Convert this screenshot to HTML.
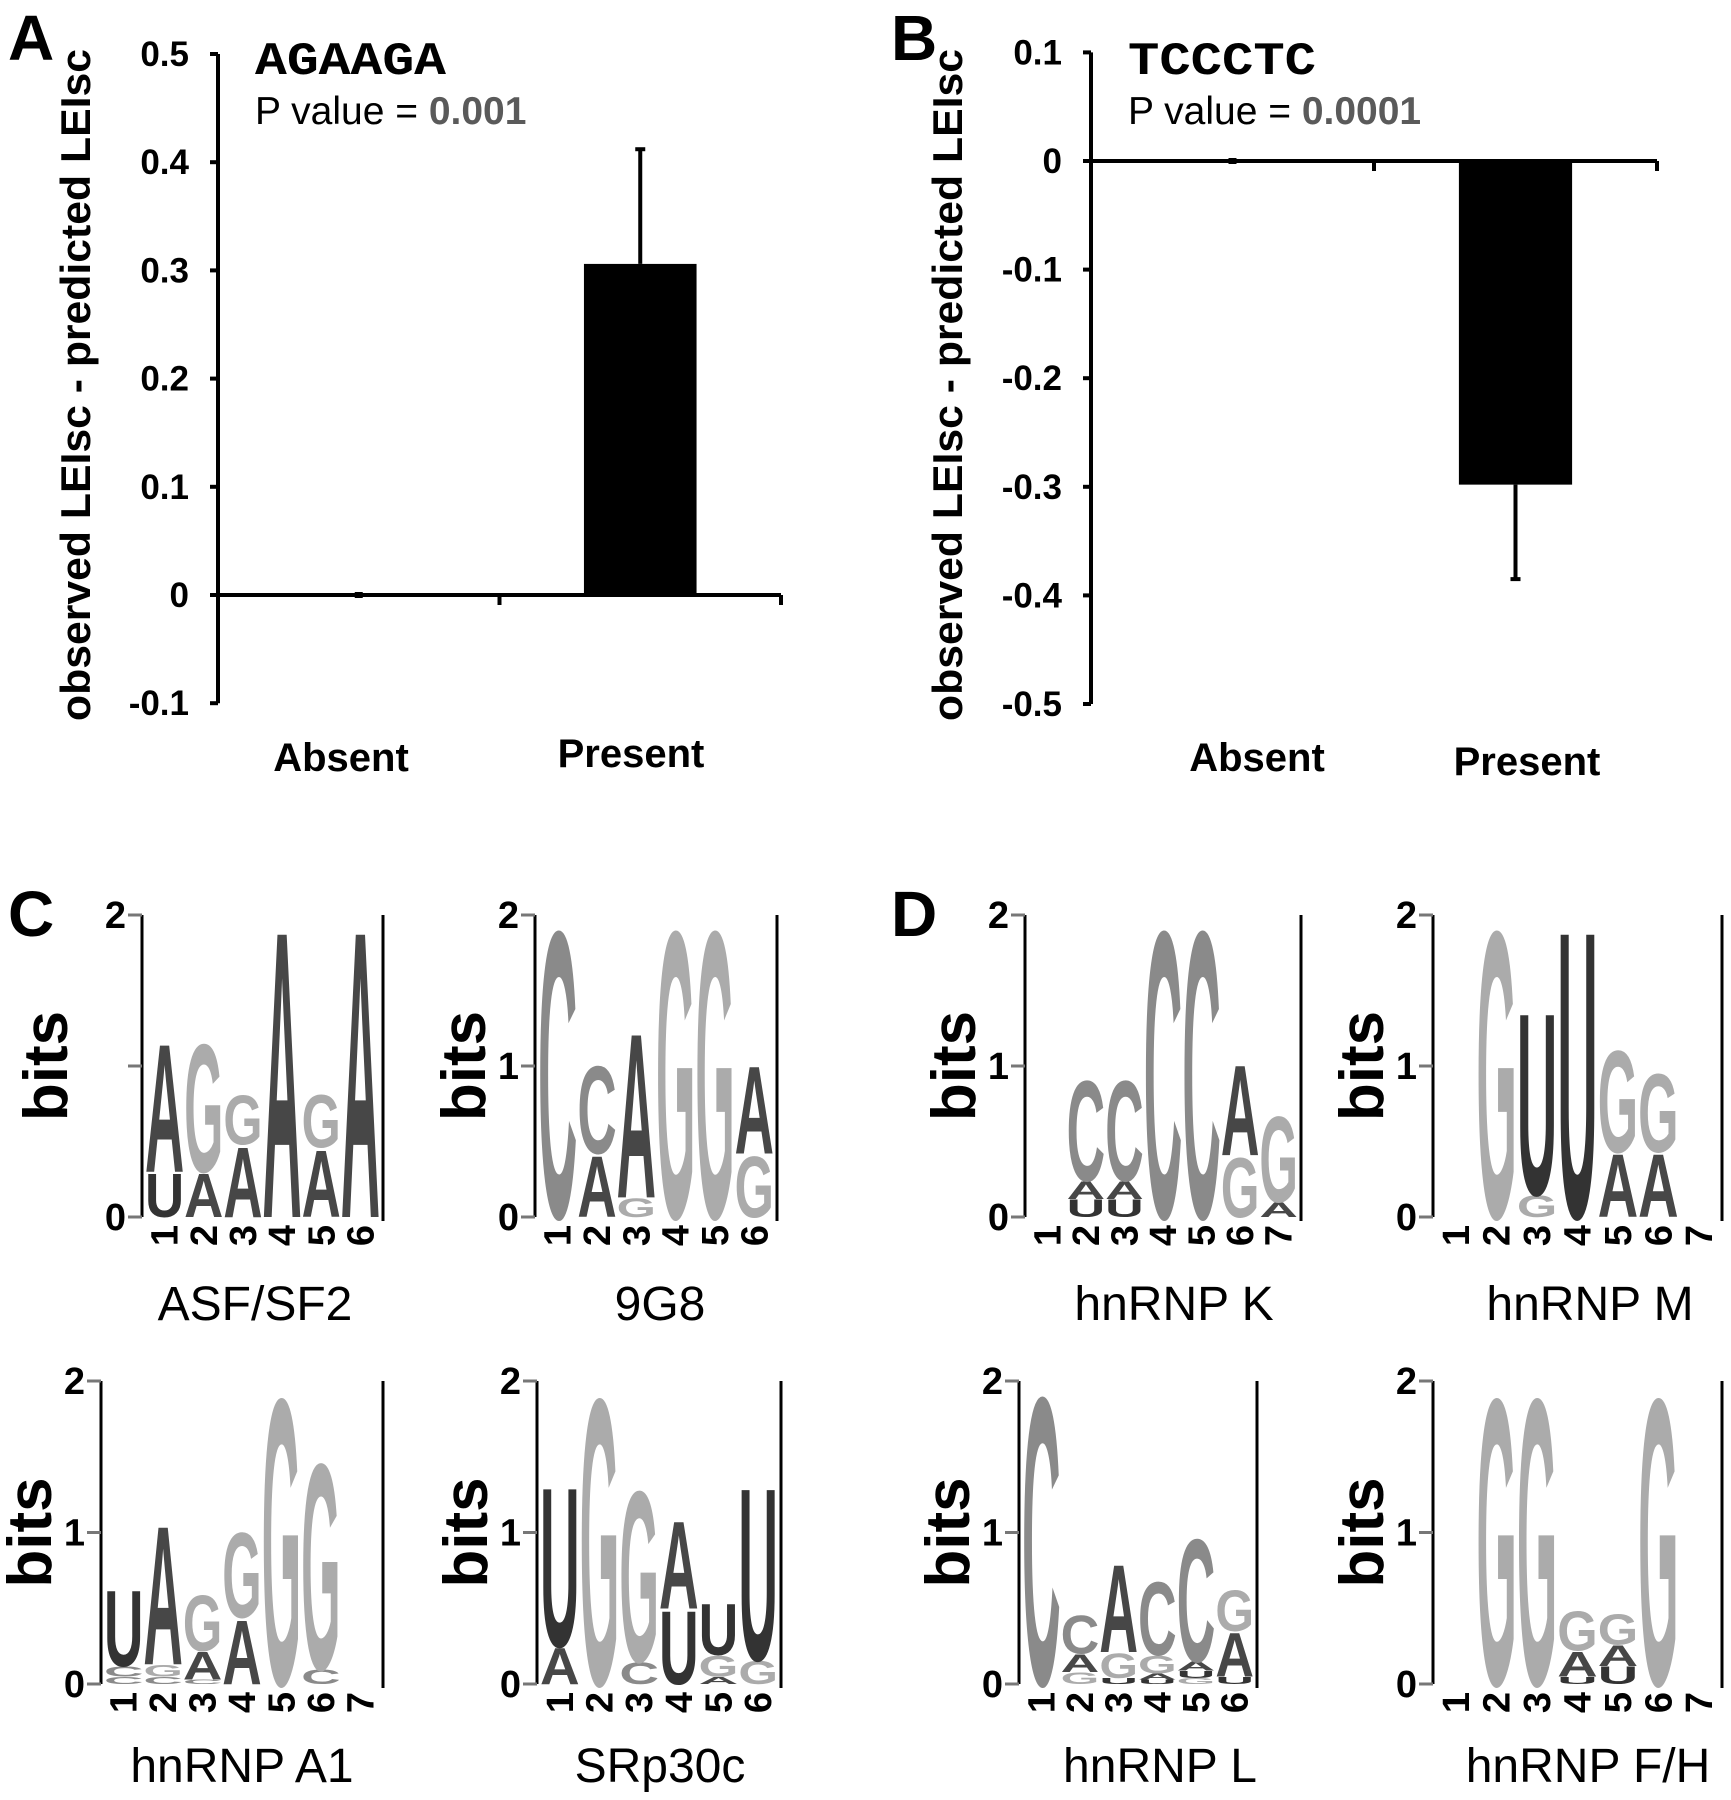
<!DOCTYPE html>
<html><head><meta charset="utf-8"><style>
html,body{margin:0;padding:0;background:#fff}
svg{display:block}
.mono{font-family:"Liberation Mono","Courier New",monospace}
</style></head><body>
<svg id="fig" xmlns="http://www.w3.org/2000/svg" width="1731" height="1800" viewBox="0 0 1731 1800" font-family="Liberation Sans, Arial, sans-serif">
<rect width="1731" height="1800" fill="#fff"/>
<g id="root"></g>
</svg>
<script>
// ---- Bar chart data ----
const catsA = ['Absent', 'Present'];
const valsA = [0, 0.306];
const errA = [0, 0.106];
const ticksA = [0.5, 0.4, 0.3, 0.2, 0.1, 0, -0.1];
const catsB = ['Absent', 'Present'];
const valsB = [0, -0.298];
const errB = [0, 0.087];
const ticksB = [0.1, 0, -0.1, -0.2, -0.3, -0.4, -0.5];

// ---- Sequence logo data: columns bottom->top [letter, bits] ----
const logoASF = [[['U',0.3],['A',0.88]],[['A',0.3],['G',0.88]],[['A',0.48],['G',0.34]],[['A',1.97]],[['A',0.46],['G',0.36]],[['A',1.97]]];
const logo9G8 = [[['C',1.97]],[['A',0.42],['C',0.6]],[['G',0.13],['A',1.13]],[['G',1.97]],[['G',1.97]],[['G',0.42],['A',0.6]]];
const logoA1 = [[['C',0.05],['C',0.07],['U',0.52]],[['C',0.05],['G',0.08],['A',0.95]],[['C',0.03],['A',0.19],['G',0.38]],[['A',0.44],['G',0.58]],[['G',1.96]],[['C',0.1],['G',1.41]],[]];
const logoSR = [[['A',0.25],['U',1.09]],[['G',1.96]],[['C',0.15],['G',1.17]],[['U',0.5],['A',0.6]],[['A',0.05],['G',0.14],['U',0.35]],[['G',0.16],['U',1.18]]];
const logoK = [[],[['U',0.12],['A',0.12],['C',0.69]],[['U',0.12],['A',0.12],['C',0.69]],[['C',1.97]],[['C',1.97]],[['G',0.41],['A',0.62]],[['A',0.1],['G',0.59]]];
const logoM = [[],[['G',1.97]],[['G',0.15],['U',1.25]],[['U',1.97]],[['A',0.43],['G',0.7]],[['A',0.43],['G',0.54]],[]];
const logoL = [[['C',1.97]],[['G',0.08],['A',0.12],['C',0.26]],[['U',0.04],['G',0.17],['A',0.6]],[['U',0.03],['A',0.04],['G',0.12],['C',0.5]],[['G',0.04],['U',0.05],['A',0.06],['C',0.84]],[['U',0.05],['A',0.3],['G',0.28]]];
const logoFH = [[],[['G',1.96]],[['G',1.96]],[['U',0.05],['A',0.17],['G',0.27]],[['U',0.12],['A',0.14],['G',0.21]],[['G',1.96]],[]];

const NS = 'http://www.w3.org/2000/svg';
const root = document.getElementById('root');
function mk(tag, attrs, parent) {
  const e = document.createElementNS(NS, tag);
  for (const k in attrs) e.setAttribute(k, attrs[k]);
  (parent || root).appendChild(e);
  return e;
}

function barChart(o) {
  const g = mk('g', {});
  
  
  const y = v => o.y0 - v * o.pxPerUnit;
  const half = (o.xEnd - o.ax) / o.cats.length;
  const ya = mk('line', {x1:o.ax, y1:y(o.ticks[0]), x2:o.ax, y2:y(o.ticks[o.ticks.length-1]), stroke:'#000','stroke-width':4}, g);
  
  
  o.ticks.forEach(t => {
    mk('line', {x1:o.ax-8, y1:y(t), x2:o.ax, y2:y(t), stroke:'#000','stroke-width':4}, g);
    const tl = mk('text', {x:o.ax-29, y:y(t)+12, 'text-anchor':'end', 'font-size':35, 'font-weight':'bold'}, g);
    tl.textContent = (Math.round(t*10)/10).toString();
    
    
  });
  o.vals.forEach((v, i) => {
    const cx = o.ax + half * (i + 0.5);
    const bw = half * 0.4;
    const top = Math.min(y(v), y(0)), h = Math.abs(y(v) - y(0));
    const r = mk('rect', {x:cx-bw/2, y:top, width:bw, height:Math.max(h, 0), fill:'#000'}, g);
    
    
    const e = o.errs[i];
    const ye = v >= 0 ? y(v + e) : y(v - e);
    if (e > 0) {
      const el = mk('line', {x1:cx, y1:y(v), x2:cx, y2:ye, stroke:'#000','stroke-width':4}, g);
      
      
      mk('line', {x1:cx-5, y1:ye, x2:cx+5, y2:ye, stroke:'#000','stroke-width':4}, g);
    } else {
      mk('rect', {x:cx-4, y:y(0)-3, width:8, height:6, fill:'#000'}, g);
    }
    const lab = mk('text', {x:o.labX[i], y:o.labY[i], 'text-anchor':'middle', 'font-size':40, 'font-weight':'bold'}, g);
    lab.textContent = o.cats[i];
    
    
  });
  const xa = mk('line', {x1:o.ax, y1:y(0), x2:o.xEnd, y2:y(0), stroke:'#000','stroke-width':4}, g);
  
  
  for (let i = 1; i <= o.cats.length; i++) {
    const tx = o.ax + half * i;
    mk('line', {x1:tx, y1:y(0), x2:tx, y2:y(0)+10, stroke:'#000','stroke-width':4}, g);
  }
  const yt = mk('text', {x:0, y:0, transform:`translate(${o.titleX},385) rotate(-90)`, 'text-anchor':'middle', 'font-size':42, 'font-weight':'bold', textLength:672, lengthAdjust:'spacingAndGlyphs'}, g);
  yt.textContent = 'observed LEIsc - predicted LEIsc';
  
  
  const mt = mk('text', {x:o.ax+37, y:74, 'font-size':46, 'font-weight':'bold', 'class':'mono', style:"font-family:'Liberation Mono','Courier New',monospace", textLength:o.motifLen, lengthAdjust:'spacingAndGlyphs'}, g);
  mt.textContent = o.motif;
  
  
  const pv = mk('text', {x:o.ax+37, y:124, 'font-size':39}, g);
  
  
  pv.appendChild(document.createTextNode('P value = '));
  const ps = mk('tspan', {fill:'#5a5a5a', 'font-weight':'bold'}, pv);
  ps.textContent = o.p;
  const pl = mk('text', {x:o.letterX, y:60, 'font-size':64, 'font-weight':'bold'}, g);
  pl.textContent = o.letter;
  
  
}

barChart({name:'chart-a', cats:catsA, vals:valsA, errs:errA, ticks:ticksA, ax:218, xEnd:781, y0:595, pxPerUnit:1082, labX:[341,631], labY:[771,767], titleX:90, motif:'AGAAGA', motifLen:191, p:'0.001', letter:'A', letterX:8});
barChart({name:'chart-b', cats:catsB, vals:valsB, errs:errB, ticks:ticksB, ax:1091, xEnd:1657, y0:161, pxPerUnit:1086, labX:[1257,1527], labY:[771,775], titleX:962, motif:'TCCCTC', motifLen:188, p:'0.0001', letter:'B', letterX:891});

const colors = {A:'#474747', C:'#8a8a8a', G:'#ababab', U:'#333333'};
const adv = {A:0.722, C:0.722, G:0.778, U:0.722};
function logo(o) {
  const g = mk('g', {});
  
  
  const pb = (o.y0 - o.y2) / 2;
  const yb = b => o.y0 - b * pb;
  const cw = (o.rx - o.ax - 6) / o.n;
  o.cols.forEach((col, i) => {
    const x0 = o.ax + 3 + i * cw;
    let acc = 0;
    col.forEach(([L, b]) => {
      const h = b * pb;
      const bottom = yb(acc);
      const sx = cw / (adv[L] * 100), sy = h / 72.5;
      const t = mk('text', {x:0, y:0, 'font-size':100, 'font-weight':'bold', fill:colors[L], 'text-anchor':'middle', transform:`translate(${x0+cw/2},${bottom}) scale(${sx},${sy})`}, g);
      t.textContent = L;
      
      
      acc += b;
    });
    const n = mk('text', {x:0, y:0, 'font-size':38, 'font-weight':'bold', transform:`translate(${x0+cw/2+13},${o.y0+8}) rotate(-90)`, 'text-anchor':'end'}, g);
    n.textContent = String(i + 1);
    
    
  });
  mk('line', {x1:o.ax, y1:o.y2, x2:o.ax, y2:o.y0, stroke:'#000','stroke-width':3}, g);
  mk('line', {x1:o.rx, y1:o.y2, x2:o.rx, y2:o.y0+4, stroke:'#000','stroke-width':3}, g);
  [0,1,2].forEach(b => {
    mk('line', {x1:o.ax-14, y1:yb(b), x2:o.ax, y2:yb(b), stroke:'#777','stroke-width':3}, g);
    if (!(o.hide1 && b === 1)) {
      const tl = mk('text', {x:o.ax-16, y:yb(b)+13, 'text-anchor':'end', 'font-size':38, 'font-weight':'bold'}, g);
      tl.textContent = String(b);
      
      
    }
  });
  const bt = mk('text', {x:0, y:0, 'font-size':62, 'font-weight':'bold', 'text-anchor':'middle', transform:`translate(${o.ax-o.bitsOff},${(o.y0+o.y2)/2}) rotate(-90)`}, g);
  bt.textContent = 'bits';
  
  
  const nm = mk('text', {x:o.nameX, y:o.nameY, 'font-size':48, 'text-anchor':'middle'}, g);
  nm.textContent = o.title;
  
  
}
logo({name:'logo-asf-sf2', cols:logoASF, n:6, ax:142, rx:383, y2:915, y0:1217, title:'ASF/SF2', nameX:255, nameY:1320, hide1:true, bitsOff:75});
logo({name:'logo-9g8', cols:logo9G8, n:6, ax:535, rx:777, y2:915, y0:1217, title:'9G8', nameX:660, nameY:1320, bitsOff:50});
logo({name:'logo-hnrnp-a1', cols:logoA1, n:7, ax:101, rx:383, y2:1381, y0:1684, title:'hnRNP A1', nameX:242, nameY:1782, bitsOff:50});
logo({name:'logo-srp30c', cols:logoSR, n:6, ax:537, rx:781, y2:1381, y0:1684, title:'SRp30c', nameX:660, nameY:1782, bitsOff:50});
logo({name:'logo-hnrnp-k', cols:logoK, n:7, ax:1025, rx:1301, y2:915, y0:1217, title:'hnRNP K', nameX:1174, nameY:1320, bitsOff:50});
logo({name:'logo-hnrnp-m', cols:logoM, n:7, ax:1433, rx:1722, y2:915, y0:1217, title:'hnRNP M', nameX:1590, nameY:1320, bitsOff:50});
logo({name:'logo-hnrnp-l', cols:logoL, n:6, ax:1019, rx:1257, y2:1381, y0:1684, title:'hnRNP L', nameX:1160, nameY:1782, bitsOff:50});
logo({name:'logo-hnrnp-fh', cols:logoFH, n:7, ax:1433, rx:1722, y2:1381, y0:1684, title:'hnRNP F/H', nameX:1588, nameY:1782, bitsOff:50});

[['C',8,936],['D',891,936]].forEach(([L,x,y]) => {
  const t = mk('text', {x:x, y:y, 'font-size':64, 'font-weight':'bold'});
  t.textContent = L;
  
  
});
</script>
</body></html>
